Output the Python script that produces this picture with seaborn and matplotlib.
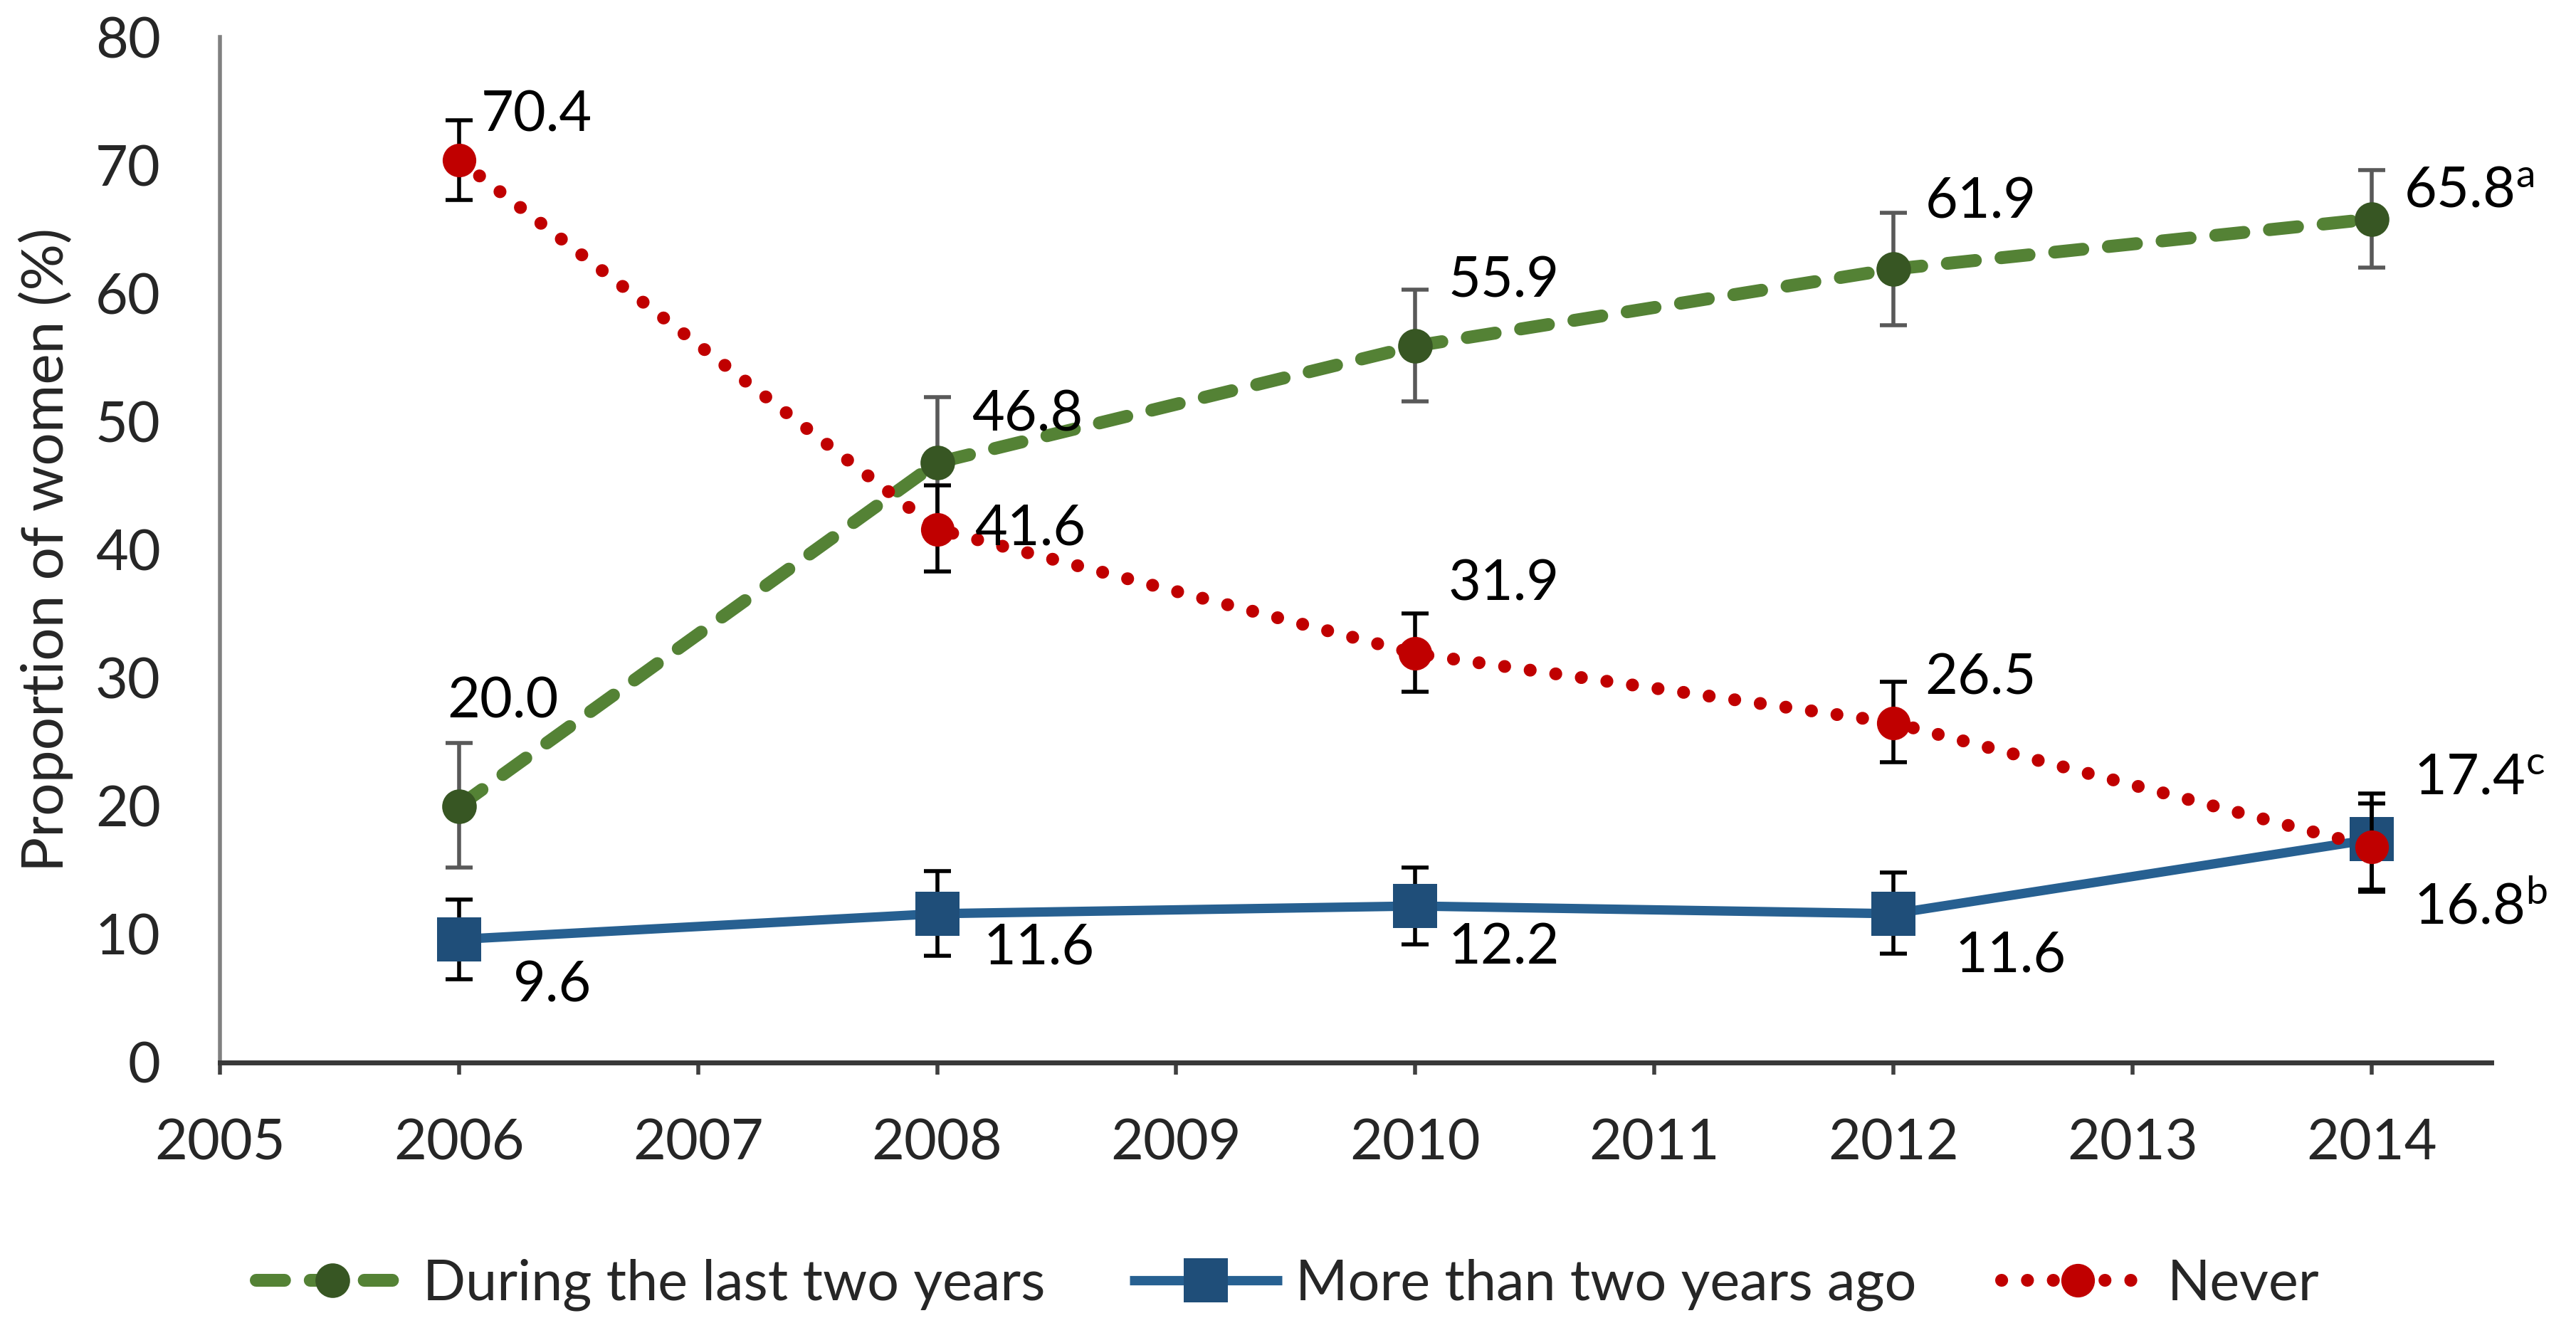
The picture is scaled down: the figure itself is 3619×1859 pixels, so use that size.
import matplotlib
matplotlib.use("Agg")
import matplotlib.pyplot as plt
import seaborn as sns
import pandas as pd

# ---- data ----
years = [2006, 2008, 2010, 2012, 2014]
series_names = ["During the last two years", "More than two years ago", "Never"]
during_vals = [20.0, 46.8, 55.9, 61.9, 65.8]
during_err_lo = [4.8, 5.0, 4.3, 4.4, 3.8]
during_err_hi = [4.9, 5.1, 4.4, 4.4, 3.8]
more_vals = [9.6, 11.6, 12.2, 11.6, 17.4]
more_err_lo = [3.1, 3.3, 3.0, 3.1, 4.1]
more_err_hi = [3.1, 3.3, 3.0, 3.2, 3.6]
never_vals = [70.4, 41.6, 31.9, 26.5, 16.8]
never_err_lo = [3.1, 3.3, 3.0, 3.1, 3.3]
never_err_hi = [3.1, 3.4, 3.1, 3.2, 3.4]
during_labels = ["20.0", "46.8", "55.9", "61.9", r"65.8$^{\mathregular{a}}$"]
more_labels = ["9.6", "11.6", "12.2", "11.6", r"17.4$^{\mathregular{c}}$"]
never_labels = ["70.4", "41.6", "31.9", "26.5", r"16.8$^{\mathregular{b}}$"]
x_ticks = list(range(2005, 2015))
y_ticks = list(range(0, 81, 10))

# ---- styling / label offsets (points) ----
during_off = [(-12, 105), (35, 48), (33, 65), (32, 67), (33, 28)]
more_off = [(55, -47), (47, -35), (33, -43), (62, -43), (43, 62)]
never_off = [(22, 45), (38, 0), (33, 70), (32, 45), (43, -62)]

FONT = ["Lato", "DejaVu Sans"]
sns.set_theme(style="white")
plt.rcParams["font.family"] = FONT
plt.rcParams["mathtext.default"] = "regular"
FS = 57

fig, ax = plt.subplots(figsize=(36.19, 18.59), dpi=100)
fig.subplots_adjust(left=0.0854, right=0.967, bottom=0.197, top=0.972)

specs = [
    dict(name=series_names[0], vals=during_vals, lo=during_err_lo, hi=during_err_hi,
         labels=during_labels, off=during_off, color="#548235", mcolor="#375623",
         ecolor="#595959", marker="o", ms=35, lw=13,
         ls=(0, (2.2, 2.0)), cap="round", z=2),
    dict(name=series_names[1], vals=more_vals, lo=more_err_lo, hi=more_err_hi,
         labels=more_labels, off=more_off, color="#276091", mcolor="#1F4E79",
         ecolor="black", marker="s", ms=44, lw=9.5, ls="-", cap="butt", z=3),
    dict(name=series_names[2], vals=never_vals, lo=never_err_lo, hi=never_err_hi,
         labels=never_labels, off=never_off, color="#C00000", mcolor="#C00000",
         ecolor="black", marker="o", ms=34, lw=13,
         ls=(0, (0.01, 2.0)), cap="round", z=4),
]

handles = []
for s in specs:
    df = pd.DataFrame({"year": years, "value": s["vals"]})
    ax.errorbar(df["year"], df["value"], yerr=[s["lo"], s["hi"]], fmt="none",
                ecolor=s["ecolor"], elinewidth=4, capsize=14, capthick=4,
                zorder=s["z"])
    sns.lineplot(data=df, x="year", y="value", ax=ax, color=s["color"],
                 linestyle=s["ls"], linewidth=s["lw"], marker=s["marker"],
                 markersize=s["ms"], markerfacecolor=s["mcolor"],
                 markeredgecolor=s["mcolor"], markeredgewidth=0,
                 dash_capstyle=s["cap"], solid_capstyle="butt",
                 zorder=s["z"] + 0.5, label=s["name"], legend=False)
    handles.append(ax.lines[-1])
    for yr, v, lab, (dx, dy) in zip(years, s["vals"], s["labels"], s["off"]):
        ax.annotate(lab, (yr, v), xytext=(dx, dy), textcoords="offset points",
                    ha="left", va="center", fontsize=FS, color="black", zorder=10)

ax.set_xlim(2005, 2014.5)
ax.set_ylim(0, 80)
ax.set_xticks(x_ticks)
ax.set_yticks(y_ticks)
ax.set_xticklabels([str(t) for t in x_ticks], fontsize=FS)
ax.set_yticklabels([str(t) for t in y_ticks], fontsize=FS)
ax.set_xlabel("")
ax.set_ylabel("Proportion of women (%)", fontsize=FS + 2, labelpad=22)
ax.tick_params(axis="x", direction="out", length=12, width=4, color="#404040",
               pad=45, bottom=True)
ax.tick_params(axis="y", length=0, pad=60)
ax.grid(False)
for side in ["top", "right"]:
    ax.spines[side].set_visible(False)
ax.spines["left"].set_color("#808080")
ax.spines["left"].set_linewidth(4)
ax.spines["bottom"].set_color("#383838")
ax.spines["bottom"].set_linewidth(5)

leg = fig.legend(handles=handles, labels=series_names, loc="center",
                 bbox_to_anchor=(0.5, 0.029), ncol=3, frameon=False, fontsize=FS,
                 handlelength=2.7, handletextpad=0.25, columnspacing=1.5)

fig.savefig("out.png", dpi=100)
